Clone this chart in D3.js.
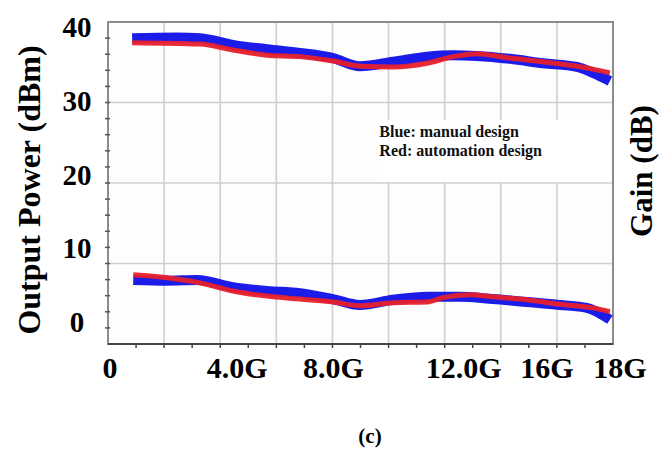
<!DOCTYPE html>
<html>
<head>
<meta charset="utf-8">
<script src="https://cdn.jsdelivr.net/npm/d3@7"></script>
<style>
  body { margin: 0; background: #fff; }
  svg { display: block; font-family: "Liberation Serif", "Times New Roman", serif; font-weight: bold; }
</style>
</head>
<body>
<svg id="chart"></svg>
<script>
// frequency in GHz, power / gain (left axis units)
const powerFreq = [0.86, 2.46, 3.28, 4.45, 5.67, 6.84, 8.02, 8.98, 10.16, 11.37, 12.3, 13.15, 14.33, 15.5, 16.71, 17.28, 17.89];
const powerManual = [38.5, 38.6, 38.5, 37.6, 37.0, 36.5, 35.8, 34.7, 35.3, 36.0, 36.2, 36.1, 35.7, 35.1, 34.6, 33.8, 32.7];
const powerAutoFreq = [0.86, 3.28, 4.45, 5.67, 6.84, 8.02, 8.98, 10.16, 11.37, 12.3, 13.15, 14.33, 15.5, 16.71, 17.28, 17.89];
const powerAuto = [37.9, 37.7, 36.9, 36.2, 36.0, 35.4, 34.7, 34.6, 35.1, 36.0, 36.4, 35.8, 35.3, 34.7, 34.3, 33.8];

const gainFreq = [0.9, 2.1, 3.17, 4.45, 5.67, 6.84, 8.02, 8.98, 10.16, 11.37, 12.54, 13.72, 14.93, 16.1, 17.07, 17.89];
const gainManual = [5.7, 5.6, 5.7, 4.7, 4.2, 3.9, 3.1, 2.3, 3.0, 3.4, 3.4, 3.1, 2.7, 2.3, 1.9, 0.3];
const gainAutoFreq = [0.9, 2.1, 3.28, 4.45, 5.67, 6.84, 8.02, 8.98, 10.16, 11.37, 11.94, 12.9, 13.72, 14.93, 16.1, 17.28, 17.89];
const gainAuto = [6.4, 6.0, 5.3, 4.2, 3.5, 3.1, 2.7, 2.2, 2.6, 2.7, 3.3, 3.7, 3.4, 3.0, 2.4, 1.9, 1.4];

const xTicks = [0, 4, 8, 12, 16, 18];
const xTickLabels = ["0", "4.0G", "8.0G", "12.0G", "16G", "18G"];
const yTicks = [0, 10, 20, 30, 40];
const legendLines = ["Blue: manual design", "Red: automation design"];

// the printed x labels sit a little off their ticks in the original figure
const xLabelNudge = [2, 17, 1, 19, -10, 7];

const width = 663, height = 449;
const margin = { top: 22, right: 50, bottom: 105, left: 108 };
const plotW = width - margin.left - margin.right;
const plotH = height - margin.top - margin.bottom;

const svg = d3.select("#chart").attr("width", width).attr("height", height);
const g = svg.append("g").attr("transform", `translate(${margin.left},${margin.top})`);

const x = d3.scaleLinear().domain([0, 18]).range([0, plotW]);
const yDomain = [-3, 40.7];
const y = d3.scaleLinear().domain(yDomain).range([plotH, 0]);

g.append("rect").attr("width", plotW).attr("height", plotH).attr("fill", "#fdfdfd");

// grid: 2 GHz vertical, 4 equal horizontal divisions of the frame
g.append("g")
  .selectAll("line")
  .data(d3.range(2, 18, 2))
  .join("line")
  .attr("x1", d => x(d)).attr("x2", d => x(d))
  .attr("y1", 0).attr("y2", plotH)
  .attr("stroke", "#cfcfcf").attr("stroke-width", 1.6);

const yGrid = d3.range(1, 4).map(i => yDomain[0] + i * (yDomain[1] - yDomain[0]) / 4);
g.append("g")
  .selectAll("line")
  .data(yGrid)
  .join("line")
  .attr("x1", 0).attr("x2", plotW)
  .attr("y1", d => y(d)).attr("y2", d => y(d))
  .attr("stroke", "#cfcfcf").attr("stroke-width", 1.6);

// frame
g.append("rect").attr("width", plotW).attr("height", plotH)
  .attr("fill", "none").attr("stroke", "#8c8c8c").attr("stroke-width", 2);

// minor ticks
const yMinor = d3.range(1, 20).map(i => yDomain[0] + i * (yDomain[1] - yDomain[0]) / 20);
g.append("g")
  .selectAll("line")
  .data(yMinor)
  .join("line")
  .attr("x1", -3).attr("x2", 2)
  .attr("y1", d => y(d)).attr("y2", d => y(d))
  .attr("stroke", "#555").attr("stroke-width", 1.5);

g.append("line").attr("x1", 0).attr("x2", plotW).attr("y1", plotH).attr("y2", plotH)
  .attr("stroke", "#444").attr("stroke-width", 2);
g.append("g")
  .selectAll("line")
  .data(d3.range(1, 18))
  .join("line")
  .attr("x1", d => x(d)).attr("x2", d => x(d))
  .attr("y1", plotH - 1).attr("y2", plotH + 4)
  .attr("stroke", "#444").attr("stroke-width", 1.5);

// curves
const line = d3.line().x(d => x(d[0])).y(d => y(d[1])).curve(d3.curveMonotoneX);
const zip = (a, b) => a.map((v, i) => [v, b[i]]);

const series = [
  { pts: zip(powerFreq, powerManual), color: "#1010e8", w: 10 },
  { pts: zip(gainFreq, gainManual), color: "#1010e8", w: 10 },
  { pts: zip(powerAutoFreq, powerAuto), color: "#e8202c", w: 5 },
  { pts: zip(gainAutoFreq, gainAuto), color: "#e8202c", w: 5 }
];
g.selectAll("path.curve")
  .data(series)
  .join("path")
  .attr("class", "curve")
  .attr("d", d => line(d.pts))
  .attr("fill", "none")
  .attr("stroke", d => d.color)
  .attr("stroke-width", d => d.w)
  .attr("stroke-linejoin", "round")
  .attr("opacity", 0.95);

// legend
const legend = g.append("g").attr("transform", `translate(${x(9.6)},${y(27.4)})`);
legend.append("rect").attr("width", 233).attr("height", 62).attr("fill", "#fff");
legend.selectAll("text")
  .data(legendLines)
  .join("text")
  .attr("x", 2)
  .attr("y", (d, i) => 17 + i * 19)
  .attr("font-size", 16)
  .attr("fill", "#111")
  .text(d => d);

// tick labels
svg.append("g")
  .selectAll("text")
  .data(yTicks)
  .join("text")
  .attr("x", 77)
  .attr("y", d => margin.top + y(d))
  .attr("dy", "0.35em")
  .attr("text-anchor", "middle")
  .attr("font-size", 29)
  .attr("fill", "#000")
  .text(d => d);

svg.append("g")
  .selectAll("text")
  .data(xTicks)
  .join("text")
  .attr("x", (d, i) => margin.left + x(d) + xLabelNudge[i])
  .attr("y", 378)
  .attr("text-anchor", "middle")
  .attr("font-size", 30)
  .attr("fill", "#000")
  .text((d, i) => xTickLabels[i]);

// axis titles
svg.append("text")
  .attr("transform", `translate(40,190) rotate(-90)`)
  .attr("text-anchor", "middle")
  .attr("font-size", 32)
  .attr("fill", "#000")
  .text("Output Power (dBm)");

svg.append("text")
  .attr("transform", `translate(652,171) rotate(-90)`)
  .attr("text-anchor", "middle")
  .attr("font-size", 31)
  .attr("fill", "#000")
  .text("Gain (dB)");

svg.append("text")
  .attr("x", 370).attr("y", 443)
  .attr("text-anchor", "middle")
  .attr("font-size", 21)
  .attr("fill", "#000")
  .text("(c)");
</script>
</body>
</html>
